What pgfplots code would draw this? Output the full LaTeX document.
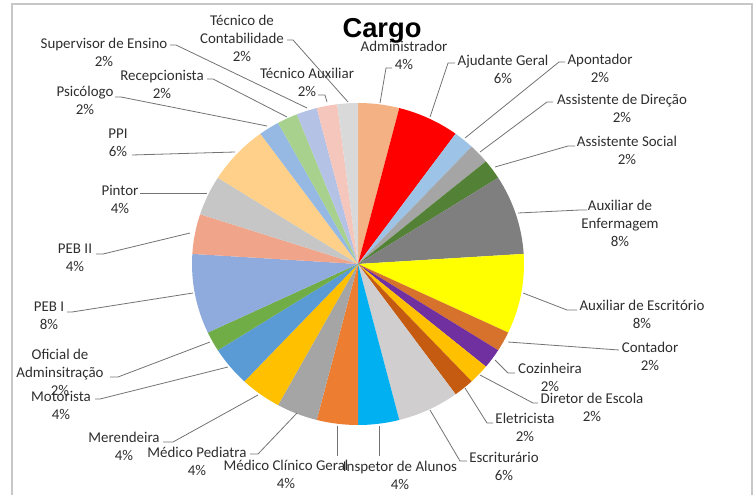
\documentclass[border=0pt]{standalone}
\usepackage{pgfplots}
\pgfplotsset{compat=1.18}
\usepackage{fontspec}
\setmainfont{Carlito}
\newfontfamily\titlefont{Liberation Sans}
\definecolor{c1}{HTML}{F4B183}
\definecolor{c2}{HTML}{FF0000}
\definecolor{c3}{HTML}{9DC3E6}
\definecolor{c4}{HTML}{A5A5A5}
\definecolor{c5}{HTML}{538135}
\definecolor{c6}{HTML}{7F7F7F}
\definecolor{c7}{HTML}{FFFF00}
\definecolor{c8}{HTML}{D6722C}
\definecolor{c9}{HTML}{7030A0}
\definecolor{c10}{HTML}{FFC000}
\definecolor{c11}{HTML}{C55A11}
\definecolor{c12}{HTML}{D0CECE}
\definecolor{c13}{HTML}{00B0F0}
\definecolor{c14}{HTML}{ED7D31}
\definecolor{c15}{HTML}{A5A5A5}
\definecolor{c16}{HTML}{FFC000}
\definecolor{c17}{HTML}{5B9BD5}
\definecolor{c18}{HTML}{70AD47}
\definecolor{c19}{HTML}{8FAADC}
\definecolor{c20}{HTML}{F0A58A}
\definecolor{c21}{HTML}{C6C6C6}
\definecolor{c22}{HTML}{FFD08A}
\definecolor{c23}{HTML}{95B9E3}
\definecolor{c24}{HTML}{A9D18E}
\definecolor{c25}{HTML}{B4C2E6}
\definecolor{c26}{HTML}{F4C6BC}
\definecolor{c27}{HTML}{D9D9D9}
\newcommand\lf{\fontsize{11.2}{13.5}\selectfont}
\newcommand\lab[3]{\node[align=center,inner sep=0pt,font=\lf,text=black!82] at (axis cs:#1,#2) {#3};}
\begin{document}
\begin{tikzpicture}
\begin{axis}[x=0.75pt,y=0.75pt,xmin=0,xmax=755,ymin=0,ymax=495,y dir=reverse,
  hide axis,clip=false,scale only axis]
\path (axis cs:0,0) rectangle (axis cs:755,495);
\draw[black!22,line width=0.8pt] (axis cs:12,495) -- (axis cs:12,4) -- (axis cs:752,4) -- (axis cs:752,495);
% pie slices: counts (1 = 2%)
\gdef\cum{0}
\foreach \v/\c in {2/c1,3/c2,1/c3,1/c4,1/c5,4/c6,4/c7,1/c8,1/c9,1/c10,1/c11,3/c12,2/c13,2/c14,2/c15,2/c16,2/c17,1/c18,4/c19,2/c20,2/c21,3/c22,1/c23,1/c24,1/c25,1/c26,1/c27}{%
  \pgfmathsetmacro\a{90-\cum*7.2}%
  \pgfmathsetmacro\b{90-(\cum+\v)*7.2}%
  \edef\tmp{\noexpand\fill[\c] (axis cs:358,264) -- ++(\a:124.5pt and 120.75pt) arc[start angle=\a,end angle=\b,x radius=124.5pt,y radius=120.75pt] -- cycle;}%
  \tmp
  \pgfmathsetmacro\n{\cum+\v}\xdef\cum{\n}%
}
% title
\node[anchor=base,inner sep=0pt,font=\titlefont\bfseries\fontsize{20.5}{22}\selectfont] at (axis cs:382,38) {Cargo};
% leader lines
\begin{scope}[black!55,line width=0.6pt]
\draw (axis cs:392,68) -- (axis cs:386,68) -- (axis cs:380,103);
\draw (axis cs:455,63) -- (axis cs:448,63) -- (axis cs:430,117);
\draw (axis cs:565,62) -- (axis cs:559,62) -- (axis cs:465,138);
\draw (axis cs:553,102) -- (axis cs:547,102) -- (axis cs:480,152);
\draw (axis cs:575,146) -- (axis cs:568,146) -- (axis cs:495,167);
\draw (axis cs:587,210) -- (axis cs:580,210) -- (axis cs:518,213);
\draw (axis cs:577,310) -- (axis cs:567,310) -- (axis cs:523,293);
\draw (axis cs:619,350) -- (axis cs:508,342);
\draw (axis cs:515,373) -- (axis cs:508,373) -- (axis cs:495,360);
\draw (axis cs:538,403) -- (axis cs:533,403) -- (axis cs:480,375);
\draw (axis cs:493,423) -- (axis cs:487,423) -- (axis cs:465,388);
\draw (axis cs:467,461) -- (axis cs:460,461) -- (axis cs:430,410);
\draw (axis cs:379,456) -- (axis cs:379,426);
\draw (axis cs:337,456) -- (axis cs:337,426);
\draw (axis cs:250,454) -- (axis cs:258,454) -- (axis cs:297,413);
\draw (axis cs:163,442) -- (axis cs:173,442) -- (axis cs:258,395);
\draw (axis cs:95,399) -- (axis cs:100,399) -- (axis cs:228,367);
\draw (axis cs:110,377) -- (axis cs:118,377) -- (axis cs:210,342);
\draw (axis cs:67,312) -- (axis cs:72,312) -- (axis cs:193,293);
\draw (axis cs:96,254) -- (axis cs:103,254) -- (axis cs:190,233);
\draw (axis cs:140,193) -- (axis cs:207,193);
\draw (axis cs:132,155) -- (axis cs:235,152);
\draw (axis cs:115,97) -- (axis cs:121,97) -- (axis cs:267,126);
\draw (axis cs:207,79) -- (axis cs:213,79) -- (axis cs:287,117);
\draw (axis cs:170,45) -- (axis cs:176,45) -- (axis cs:307,108);
\draw (axis cs:287,40) -- (axis cs:293,40) -- (axis cs:348,102);
\draw (axis cs:318,95) -- (axis cs:325,95) -- (axis cs:327,102);
\end{scope}
% labels
\lab{404}{55}{Administrador\\4\%}
\lab{503}{69}{Ajudante Geral\\6\%}
\lab{600}{68}{Apontador\\2\%}
\lab{622}{108}{Assistente de Direção\\2\%}
\lab{627}{150}{Assistente Social\\2\%}
\lab{620}{223}{Auxiliar de\\Enfermagem\\8\%}
\lab{642}{314}{Auxiliar de Escritório\\8\%}
\lab{650}{356}{Contador\\2\%}
\lab{550}{377}{Cozinheira\\2\%}
\lab{592}{407}{Diretor de Escola\\2\%}
\lab{525}{427}{Eletricista\\2\%}
\lab{504}{466}{Escriturário\\6\%}
\lab{400}{475}{Inspetor de Alunos\\4\%}
\lab{286}{474}{Médico Clínico Geral\\4\%}
\lab{197}{461}{Médico Pediatra\\4\%}
\lab{124}{446}{Merendeira\\4\%}
\lab{60}{372}{Oficial de\\Adminsitração\\2\%}
\lab{61}{405}{Motorista\\4\%}
\lab{49}{316}{PEB I\\8\%}
\lab{75}{258}{PEB II\\4\%}
\lab{120}{199}{Pintor\\4\%}
\lab{118}{143}{PPI\\6\%}
\lab{85}{100}{Psicólogo\\2\%}
\lab{162}{84}{Recepcionista\\2\%}
\lab{104}{52}{Supervisor de Ensino\\2\%}
\lab{307}{82}{Técnico Auxiliar\\2\%}
\lab{242}{38}{Técnico de\\Contabilidade\\2\%}
\end{axis}
\end{tikzpicture}
\end{document}
